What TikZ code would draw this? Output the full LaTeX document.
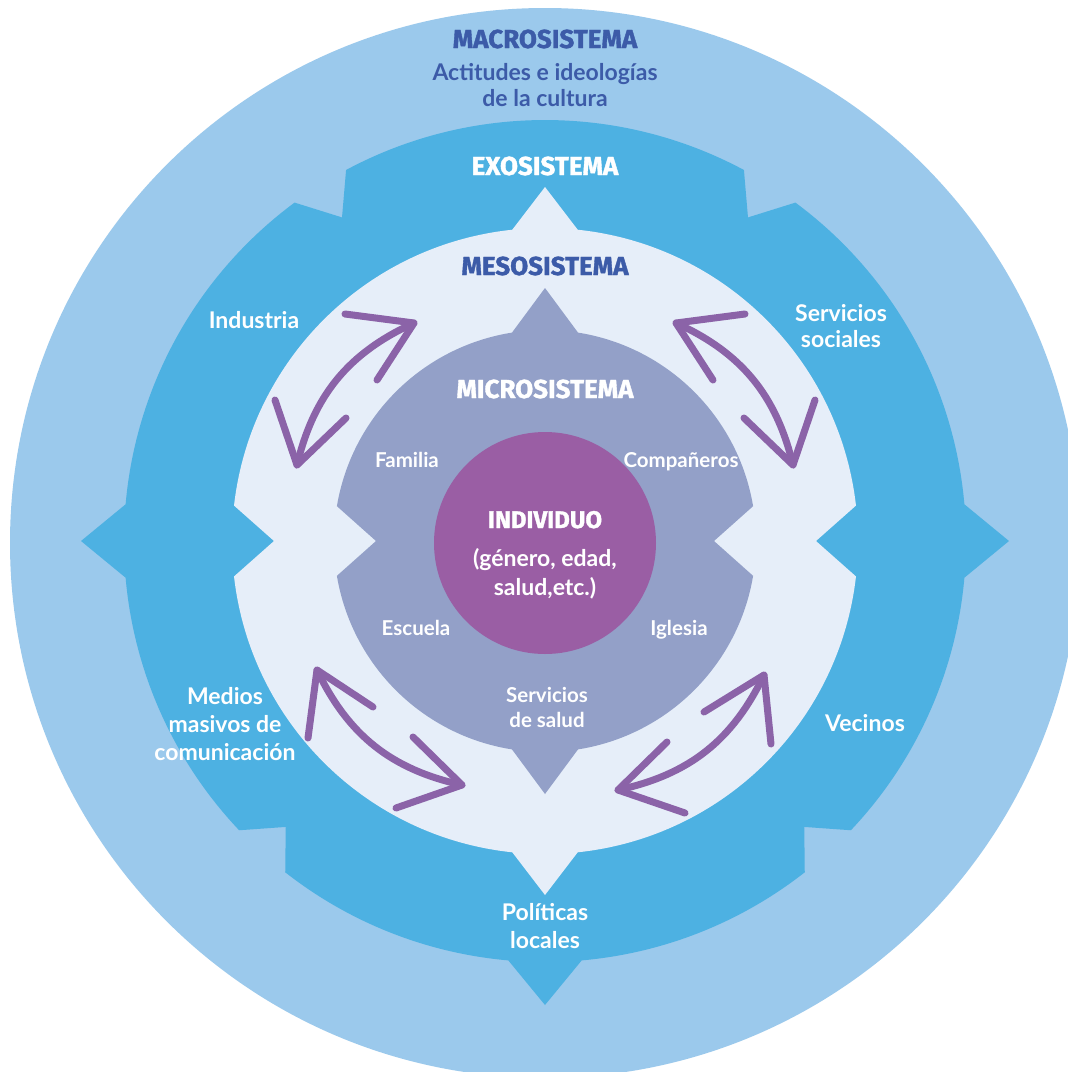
\documentclass[tikz,border=0pt]{standalone}
\usepackage{fontspec}
\setmainfont{Lato}
\newfontfamily\headfont{Fira Sans}[BoldFeatures={FakeBold=1.4}]
\definecolor{macroc}{HTML}{9BC9EC}
\definecolor{exoc}{HTML}{4DB1E2}
\definecolor{mesoc}{HTML}{E6EEF9}
\definecolor{microc}{HTML}{93A0C8}
\definecolor{indc}{HTML}{9A5EA4}
\definecolor{arrc}{HTML}{8B63A8}
\definecolor{darkb}{HTML}{3C5BA8}
\begin{document}
\begin{tikzpicture}[x=1pt,y=-1pt,
  head/.style={font=\headfont\bfseries\fontsize{26}{30}\selectfont, anchor=base, inner sep=0pt},
  lbl/.style={font=\bfseries\fontsize{23}{28}\selectfont, text=white, anchor=base, inner sep=0pt},
  mlbl/.style={font=\bfseries\fontsize{20.5}{24}\selectfont, text=white, anchor=base, inner sep=0pt},
  arrline/.style={draw=arrc, line width=7pt, line cap=round, line join=round},
]
\useasboundingbox (0,0) rectangle (1068,1072);
\clip (0,0) rectangle (1068,1072);
\fill[white] (0,0) rectangle (1068,1072);
\fill[macroc] (545,543) circle[radius=535];
\begin{scope}[shift={(545,541)}]
% exosistema
\fill[exoc] (-5:421) -- (0:464) -- (5:421)
  arc[start angle=5, end angle=43.4, radius=421] -- (47.8:386) -- (51.9:421)
  arc[start angle=51.9, end angle=85, radius=421] -- (90:464) -- (95:421)
  arc[start angle=95, end angle=128.1, radius=421] -- (132.2:386) -- (136.6:421)
  arc[start angle=136.6, end angle=175, radius=421] -- (180:464) -- (185:421)
  arc[start angle=185, end angle=233.5, radius=421] -- (237.9:382) -- (241.8:421)
  arc[start angle=241.8, end angle=298.2, radius=421] -- (302.1:382) -- (306.5:421)
  arc[start angle=306.5, end angle=355, radius=421] -- cycle;
% mesosistema
\fill[mesoc] (-6.5:313) -- (0:271) -- (6.5:313)
  arc[start angle=6.5, end angle=84, radius=313] -- (90:354) -- (96:313)
  arc[start angle=96, end angle=173.5, radius=313] -- (180:271) -- (186.5:313)
  arc[start angle=186.5, end angle=264, radius=313] -- (270:354) -- (276:313)
  arc[start angle=276, end angle=353.5, radius=313] -- cycle;
% microsistema
\fill[microc] (-9.5:211) -- (0:169) -- (9.5:211)
  arc[start angle=9.5, end angle=81, radius=211] -- (90:253) -- (99:211)
  arc[start angle=99, end angle=170.5, radius=211] -- (180:169) -- (189.5:211)
  arc[start angle=189.5, end angle=261, radius=211] -- (270:253) -- (279:211)
  arc[start angle=279, end angle=350.5, radius=211] -- cycle;
\end{scope}
\fill[indc] (545,543) circle[radius=111];

% arrows
\coordinate (a1) at (414,323); \coordinate (a1p) at (345,314); \coordinate (a1q) at (377,380);
\coordinate (b1) at (297,465); \coordinate (b1p) at (275,400); \coordinate (b1q) at (346,418);
\coordinate (a2) at (676,323); \coordinate (a2p) at (745,314); \coordinate (a2q) at (713,380);
\coordinate (b2) at (793,465); \coordinate (b2p) at (815,400); \coordinate (b2q) at (744,418);
\coordinate (a3) at (317,670); \coordinate (a3p) at (308,738); \coordinate (a3q) at (373,707);
\coordinate (b3) at (462,785); \coordinate (b3p) at (413,737); \coordinate (b3q) at (396,808);
\coordinate (a4) at (764,675); \coordinate (a4p) at (704,712); \coordinate (a4q) at (771,744);
\coordinate (b4) at (618,790); \coordinate (b4p) at (667,742); \coordinate (b4q) at (685,813);
\draw[arrline] (a1) to[bend right=26] (b1);
\draw[arrline] (a1p) -- (a1) -- (a1q);
\draw[arrline] (b1p) -- (b1) -- (b1q);
\draw[arrline] (a2) to[bend left=26] (b2);
\draw[arrline] (a2p) -- (a2) -- (a2q);
\draw[arrline] (b2p) -- (b2) -- (b2q);
\draw[arrline] (a3) to[bend right=26] (b3);
\draw[arrline] (a3p) -- (a3) -- (a3q);
\draw[arrline] (b3p) -- (b3) -- (b3q);
\draw[arrline] (a4) to[bend left=26] (b4);
\draw[arrline] (a4p) -- (a4) -- (a4q);
\draw[arrline] (b4p) -- (b4) -- (b4q);

% texts
\node[head, text=darkb] (macro) at (545,48) {MACROSISTEMA};
\node[lbl, text=darkb] (macro1) at (545,80) {Actitudes e ideologías};
\node[lbl, text=darkb] (macro2) at (545,106) {de la cultura};
\node[head, text=white] (exo) at (545,175) {EXOSISTEMA};
\node[head, text=darkb] (meso) at (545,275) {MESOSISTEMA};
\node[head, text=white] (micro) at (545,398) {MICROSISTEMA};
\node[head, text=white, font=\headfont\bfseries\fontsize{24}{28}\selectfont] (indiv) at (545,528) {INDIVIDUO};
\node[lbl] (ind1) at (545,566) {(género, edad,};
\node[lbl] (ind2) at (545,595) {salud,etc.)};
\node[mlbl] (fam) at (407,467) {Familia};
\node[mlbl] (comp) at (681,467) {Compañeros};
\node[mlbl] (esc) at (416,635) {Escuela};
\node[mlbl] (igl) at (679,635) {Iglesia};
\node[mlbl] (salud1) at (547,702) {Servicios};
\node[mlbl] (salud2) at (547,727) {de salud};
\node[lbl] (indus) at (254,328) {Industria};
\node[lbl] (ss1) at (841,321) {Servicios};
\node[lbl] (ss2) at (841,347) {sociales};
\node[lbl] (med1) at (225,704) {Medios};
\node[lbl] (med2) at (225,732) {masivos de};
\node[lbl] (med3) at (225,760) {comunicación};
\node[lbl] (vec) at (865,731) {Vecinos};
\node[lbl] (pol1) at (545,920) {Políticas};
\node[lbl] (pol2) at (545,948) {locales};
\end{tikzpicture}
\end{document}
